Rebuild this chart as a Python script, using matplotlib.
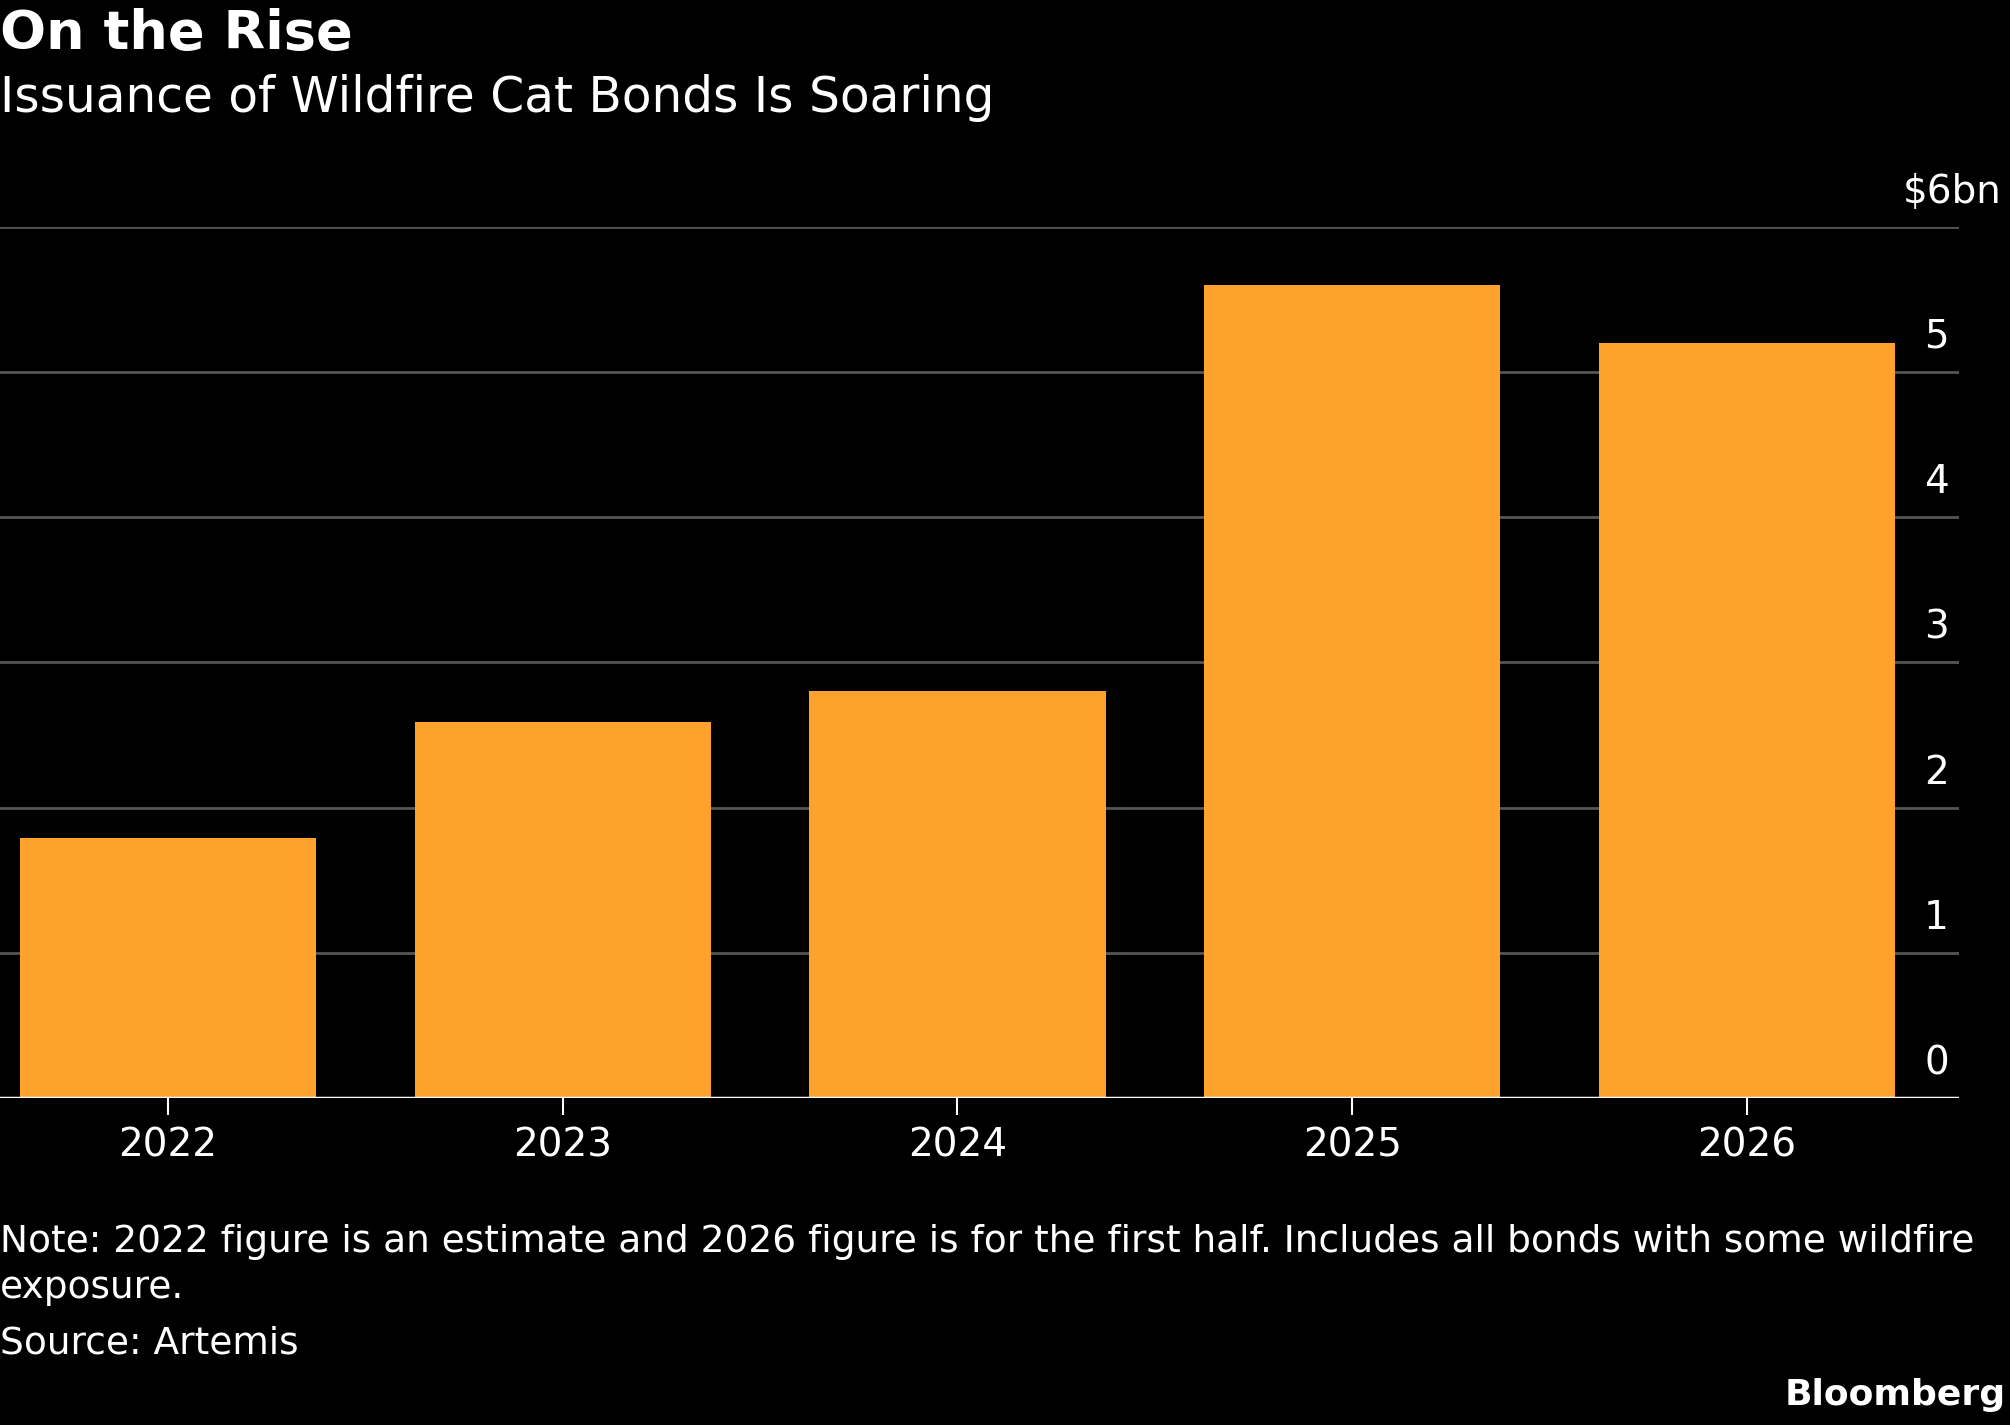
import matplotlib
matplotlib.use("Agg")
from matplotlib import pyplot as plt
import matplotlib.transforms as mtrans

years = ["2022", "2023", "2024", "2025", "2026"]
issuance = [1.79, 2.59, 2.80, 5.60, 5.20]
yticks = [0, 1, 2, 3, 4, 5, 6]
ytick_labels = ["0", "1", "2", "3", "4", "5", "$6bn"]

plt.rcParams['font.family'] = ['DejaVu Sans']

fig = plt.figure(figsize=(20.1, 14.25), dpi=100, facecolor="black")
ax = fig.add_axes([0.0, 0.2293, 0.9745, 0.8410 - 0.2293], facecolor="black")

x = range(len(years))
ax.bar(x, issuance, width=0.75, color="#ffa22d", zorder=2)
ax.set_xlim(-0.425, 4.536)
ax.set_ylim(0, 6)

for v in yticks[1:]:
    ax.axhline(v, color="#555555", lw=2, zorder=1)
ax.axhline(0, color="white", lw=2.5, zorder=3)

ax.set_yticks([])
ax.set_xticks(list(x))
ax.set_xticklabels(years, color="white", fontsize=28)
ax.tick_params(axis="x", colors="white", length=12, width=1.5, pad=8)
for s in ax.spines.values():
    s.set_visible(False)

tr = mtrans.blended_transform_factory(ax.transAxes, ax.transData)
for v, lab in zip(yticks, ytick_labels):
    xp = 1.022 if lab.startswith("$") else 0.995
    ax.text(xp, v + 0.24, lab, transform=tr, ha="right", va="center",
            color="white", fontsize=28)

fig.text(0.0, 0.976, "On the Rise", color="white", fontsize=39,
         fontweight="bold", va="center", ha="left")
fig.text(0.0, 0.931, "Issuance of Wildfire Cat Bonds Is Soaring", color="white",
         fontsize=35, va="center", ha="left")
fig.text(0.0, 0.112, "Note: 2022 figure is an estimate and 2026 figure is for the first half. "
         "Includes all bonds with some wildfire\nexposure.", color="white",
         fontsize=27, va="center", ha="left", linespacing=1.35)
fig.text(0.0, 0.057, "Source: Artemis", color="white", fontsize=27,
         va="center", ha="left")
fig.text(0.998, 0.021, "Bloomberg", color="white", fontsize=26,
         fontweight="bold", va="center", ha="right")

fig.savefig("out.png", dpi=100, facecolor="black")
